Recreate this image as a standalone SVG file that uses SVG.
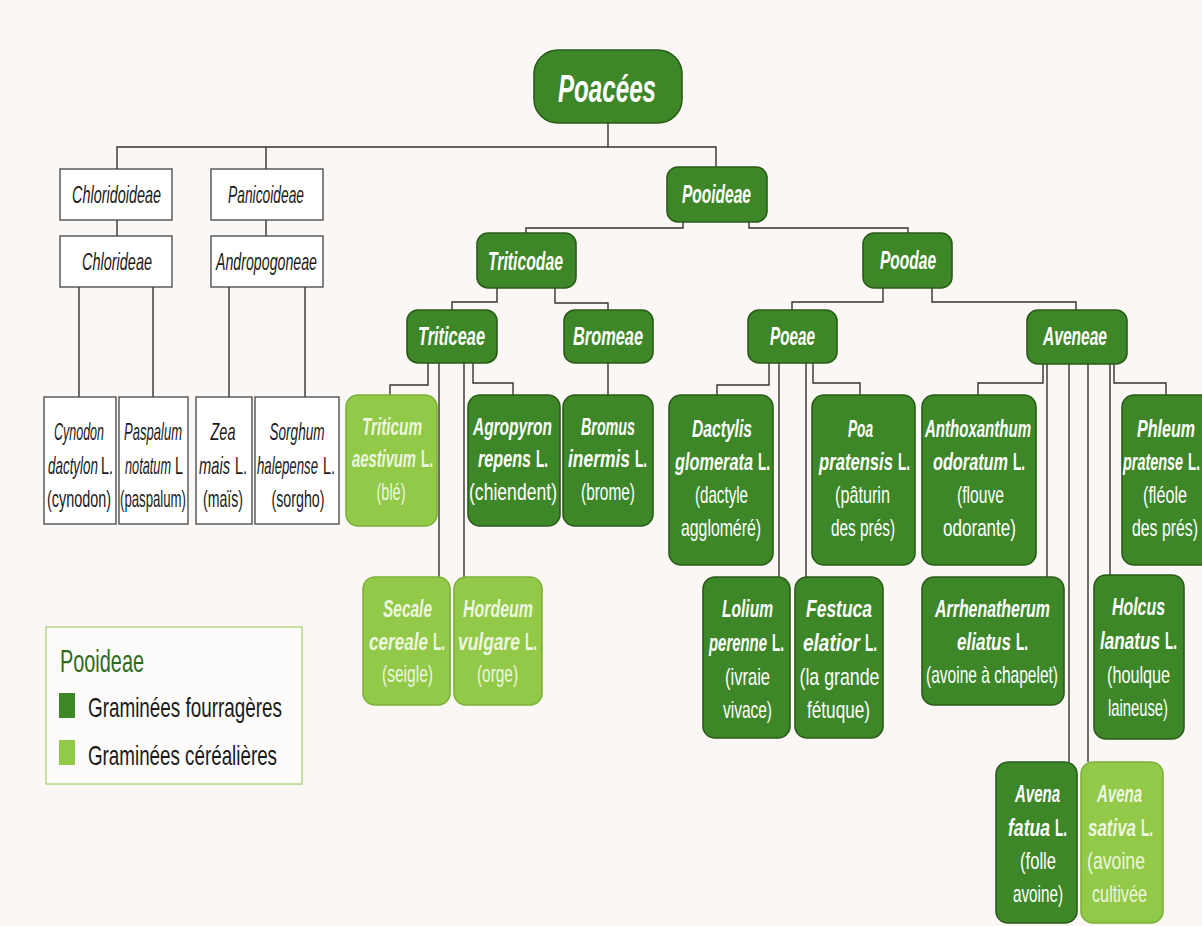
<svg xmlns="http://www.w3.org/2000/svg" width="1202" height="926" viewBox="0 0 1202 926">
<style>
.conn{stroke:#333;stroke-width:1.4;fill:none}
.wbox{fill:#fff;stroke:#444;stroke-width:1.3}
.dk{fill:#3d8729;stroke:#2a5c18;stroke-width:1.6}
.lt{fill:#92c948;stroke:#7cb138;stroke-width:1.6}
text{font-family:"Liberation Sans",Arial,sans-serif;text-anchor:middle}
.s{text-anchor:start}
.w{fill:#1a1a1a;font-size:24px}
.g{fill:#ffffff;font-size:24px}
.p{fill:#eef7df;font-size:24px}
.h{fill:#ffffff;font-size:25px;font-weight:bold;font-style:italic}
.i{font-style:italic}
.b{font-weight:bold}
.leg{fill:#1a1a1a;font-size:28px;text-anchor:start}
</style>
<rect x="0" y="0" width="1202" height="926" fill="#faf7f5"/>

<g id="connectors">
<path class="conn" d="M608,123 V147"/>
<path class="conn" d="M117,169 V147 H716 V167"/>
<path class="conn" d="M266,147 V169"/>
<path class="conn" d="M117,220 V236"/>
<path class="conn" d="M266,220 V236"/>
<path class="conn" d="M79,287 V397"/>
<path class="conn" d="M153,287 V397"/>
<path class="conn" d="M229,287 V397"/>
<path class="conn" d="M305,287 V397"/>
<path class="conn" d="M683,222 V228 H526 V233"/>
<path class="conn" d="M749,222 V228 H908 V233"/>
<path class="conn" d="M497,288 V302 H452 V310"/>
<path class="conn" d="M555,288 V303 H608 V310"/>
<path class="conn" d="M883,288 V302 H792 V310"/>
<path class="conn" d="M932,288 V302 H1076 V310"/>
<path class="conn" d="M428,363 V385 H390 V395"/>
<path class="conn" d="M439,363 V577"/>
<path class="conn" d="M464,363 V577"/>
<path class="conn" d="M473,363 V383 H513 V395"/>
<path class="conn" d="M608,363 V395"/>
<path class="conn" d="M769,363 V385 H717 V395"/>
<path class="conn" d="M779,363 V577"/>
<path class="conn" d="M806,363 V577"/>
<path class="conn" d="M813,363 V383 H860 V395"/>
<path class="conn" d="M1043,364 V383 H978 V395"/>
<path class="conn" d="M1047,364 V577"/>
<path class="conn" d="M1069,364 V762"/>
<path class="conn" d="M1088,364 V762"/>
<path class="conn" d="M1110,364 V575"/>
<path class="conn" d="M1114,364 V383 H1166 V395"/>
</g>

<g id="poacees">
<rect class="dk" x="534" y="50" width="148" height="73" rx="24"/>
<text class="h" x="607" y="102" style="font-size:39px" textLength="98" lengthAdjust="spacingAndGlyphs">Poacées</text>
</g>

<g id="chloridoideae">
<rect class="wbox" x="60" y="169" width="112" height="51"/>
<text class="w i" x="116.5" y="203" textLength="89" lengthAdjust="spacingAndGlyphs">Chloridoideae</text>
</g>
<g id="panicoideae">
<rect class="wbox" x="211" y="169" width="112" height="51"/>
<text class="w i" x="266" y="203" textLength="76" lengthAdjust="spacingAndGlyphs">Panicoideae</text>
</g>
<g id="chlorideae">
<rect class="wbox" x="60" y="236" width="112" height="51"/>
<text class="w i" x="117" y="270" textLength="70" lengthAdjust="spacingAndGlyphs">Chlorideae</text>
</g>
<g id="andropogoneae">
<rect class="wbox" x="211" y="236" width="112" height="51"/>
<text class="w i" x="266.5" y="270" textLength="101" lengthAdjust="spacingAndGlyphs">Andropogoneae</text>
</g>

<g id="cynodon">
<rect class="wbox" x="44" y="397" width="72" height="127"/>
<text class="w i" x="79" y="440" textLength="50" lengthAdjust="spacingAndGlyphs">Cynodon</text>
<text class="w i s" x="48" y="474" textLength="50" lengthAdjust="spacingAndGlyphs">dactylon</text>
<text class="w s" x="101" y="474" textLength="12" lengthAdjust="spacingAndGlyphs">L.</text>
<text class="w" x="79" y="507" textLength="64" lengthAdjust="spacingAndGlyphs">(cynodon)</text>
</g>
<g id="paspalum">
<rect class="wbox" x="119" y="397" width="69" height="127"/>
<text class="w i" x="153" y="440" textLength="58" lengthAdjust="spacingAndGlyphs">Paspalum</text>
<text class="w i s" x="125" y="474" textLength="46" lengthAdjust="spacingAndGlyphs">notatum</text>
<text class="w s" x="175" y="474" textLength="8" lengthAdjust="spacingAndGlyphs">L</text>
<text class="w" x="153" y="507" textLength="66" lengthAdjust="spacingAndGlyphs">(paspalum)</text>
</g>
<g id="zea">
<rect class="wbox" x="196" y="397" width="56" height="127"/>
<text class="w i" x="223" y="440" textLength="25" lengthAdjust="spacingAndGlyphs">Zea</text>
<text class="w i s" x="199" y="474" textLength="31" lengthAdjust="spacingAndGlyphs">mais</text>
<text class="w s" x="235" y="474" textLength="12" lengthAdjust="spacingAndGlyphs">L.</text>
<text class="w" x="223" y="507" textLength="40" lengthAdjust="spacingAndGlyphs">(maïs)</text>
</g>
<g id="sorghum">
<rect class="wbox" x="255" y="397" width="84" height="127"/>
<text class="w i" x="297" y="440" textLength="55" lengthAdjust="spacingAndGlyphs">Sorghum</text>
<text class="w i s" x="257" y="474" textLength="61" lengthAdjust="spacingAndGlyphs">halepense</text>
<text class="w s" x="323" y="474" textLength="12" lengthAdjust="spacingAndGlyphs">L.</text>
<text class="w" x="298" y="507" textLength="53" lengthAdjust="spacingAndGlyphs">(sorgho)</text>
</g>

<g id="pooideae">
<rect class="dk" x="667" y="167" width="100" height="55" rx="11"/>
<text class="h" x="716.5" y="203" textLength="69" lengthAdjust="spacingAndGlyphs">Pooideae</text>
</g>
<g id="triticodae">
<rect class="dk" x="477" y="233" width="99" height="55" rx="11"/>
<text class="h" x="525.5" y="270" textLength="75" lengthAdjust="spacingAndGlyphs">Triticodae</text>
</g>
<g id="poodae">
<rect class="dk" x="863" y="233" width="89" height="55" rx="11"/>
<text class="h" x="908" y="269" textLength="56" lengthAdjust="spacingAndGlyphs">Poodae</text>
</g>
<g id="triticeae">
<rect class="dk" x="407" y="310" width="90" height="53" rx="11"/>
<text class="h" x="451.5" y="345" textLength="67" lengthAdjust="spacingAndGlyphs">Triticeae</text>
</g>
<g id="bromeae">
<rect class="dk" x="564" y="310" width="89" height="53" rx="11"/>
<text class="h" x="608" y="345" textLength="70" lengthAdjust="spacingAndGlyphs">Bromeae</text>
</g>
<g id="poeae">
<rect class="dk" x="748" y="310" width="89" height="53" rx="11"/>
<text class="h" x="792.5" y="345" textLength="45" lengthAdjust="spacingAndGlyphs">Poeae</text>
</g>
<g id="aveneae">
<rect class="dk" x="1027" y="310" width="100" height="54" rx="11"/>
<text class="h" x="1075" y="345" textLength="64" lengthAdjust="spacingAndGlyphs">Aveneae</text>
</g>

<g id="triticum">
<rect class="lt" x="346" y="395" width="91" height="131" rx="12"/>
<text class="p b i" x="392" y="435" textLength="60" lengthAdjust="spacingAndGlyphs">Triticum</text>
<text class="p b i s" x="352" y="467" textLength="64" lengthAdjust="spacingAndGlyphs">aestivum</text>
<text class="p b s" x="421" y="467" textLength="12" lengthAdjust="spacingAndGlyphs">L.</text>
<text class="p" x="391" y="500" textLength="29" lengthAdjust="spacingAndGlyphs">(blé)</text>
</g>
<g id="agropyron">
<rect class="dk" x="468" y="395" width="92" height="131" rx="12"/>
<text class="g b i" x="512.5" y="435" textLength="79" lengthAdjust="spacingAndGlyphs">Agropyron</text>
<text class="g b i s" x="478" y="467" textLength="53" lengthAdjust="spacingAndGlyphs">repens</text>
<text class="g b s" x="536" y="467" textLength="12" lengthAdjust="spacingAndGlyphs">L.</text>
<text class="g" x="513" y="500" textLength="88" lengthAdjust="spacingAndGlyphs">(chiendent)</text>
</g>
<g id="bromus">
<rect class="dk" x="563" y="395" width="90" height="131" rx="12"/>
<text class="g b i" x="608" y="435" textLength="54" lengthAdjust="spacingAndGlyphs">Bromus</text>
<text class="g b i s" x="568" y="467" textLength="62" lengthAdjust="spacingAndGlyphs">inermis</text>
<text class="g b s" x="635" y="467" textLength="12" lengthAdjust="spacingAndGlyphs">L.</text>
<text class="g" x="608" y="500" textLength="54" lengthAdjust="spacingAndGlyphs">(brome)</text>
</g>
<g id="secale">
<rect class="lt" x="363" y="577" width="87" height="128" rx="12"/>
<text class="p b i" x="407.5" y="617" textLength="49" lengthAdjust="spacingAndGlyphs">Secale</text>
<text class="p b i s" x="369" y="650" textLength="59" lengthAdjust="spacingAndGlyphs">cereale</text>
<text class="p b s" x="433" y="650" textLength="12" lengthAdjust="spacingAndGlyphs">L.</text>
<text class="p" x="407.5" y="682" textLength="51" lengthAdjust="spacingAndGlyphs">(seigle)</text>
</g>
<g id="hordeum">
<rect class="lt" x="454" y="577" width="88" height="128" rx="12"/>
<text class="p b i" x="498" y="617" textLength="70" lengthAdjust="spacingAndGlyphs">Hordeum</text>
<text class="p b i s" x="458" y="650" textLength="62" lengthAdjust="spacingAndGlyphs">vulgare</text>
<text class="p b s" x="525" y="650" textLength="12" lengthAdjust="spacingAndGlyphs">L.</text>
<text class="p" x="497.5" y="682" textLength="41" lengthAdjust="spacingAndGlyphs">(orge)</text>
</g>

<g id="dactylis">
<rect class="dk" x="669" y="395" width="104" height="170" rx="12"/>
<text class="g b i" x="722" y="437" textLength="60" lengthAdjust="spacingAndGlyphs">Dactylis</text>
<text class="g b i s" x="675" y="470" textLength="78" lengthAdjust="spacingAndGlyphs">glomerata</text>
<text class="g b s" x="758" y="470" textLength="12" lengthAdjust="spacingAndGlyphs">L.</text>
<text class="g" x="721.5" y="503" textLength="53" lengthAdjust="spacingAndGlyphs">(dactyle</text>
<text class="g" x="721" y="536" textLength="80" lengthAdjust="spacingAndGlyphs">aggloméré)</text>
</g>
<g id="poa">
<rect class="dk" x="812" y="395" width="103" height="170" rx="12"/>
<text class="g b i" x="860.5" y="437" textLength="25" lengthAdjust="spacingAndGlyphs">Poa</text>
<text class="g b i s" x="819" y="470" textLength="74" lengthAdjust="spacingAndGlyphs">pratensis</text>
<text class="g b s" x="898" y="470" textLength="12" lengthAdjust="spacingAndGlyphs">L.</text>
<text class="g" x="862.5" y="503" textLength="55" lengthAdjust="spacingAndGlyphs">(pâturin</text>
<text class="g" x="863" y="536" textLength="64" lengthAdjust="spacingAndGlyphs">des prés)</text>
</g>
<g id="lolium">
<rect class="dk" x="703" y="577" width="87" height="161" rx="12"/>
<text class="g b i" x="747.5" y="617" textLength="51" lengthAdjust="spacingAndGlyphs">Lolium</text>
<text class="g b i s" x="709" y="651" textLength="58" lengthAdjust="spacingAndGlyphs">perenne</text>
<text class="g b s" x="772" y="651" textLength="12" lengthAdjust="spacingAndGlyphs">L.</text>
<text class="g" x="747.5" y="685" textLength="45" lengthAdjust="spacingAndGlyphs">(ivraie</text>
<text class="g" x="747.5" y="718" textLength="49" lengthAdjust="spacingAndGlyphs">vivace)</text>
</g>
<g id="festuca">
<rect class="dk" x="795" y="577" width="88" height="161" rx="12"/>
<text class="g b i" x="839" y="617" textLength="66" lengthAdjust="spacingAndGlyphs">Festuca</text>
<text class="g b i s" x="803" y="651" textLength="57" lengthAdjust="spacingAndGlyphs">elatior</text>
<text class="g b s" x="865" y="651" textLength="12" lengthAdjust="spacingAndGlyphs">L.</text>
<text class="g" x="839.5" y="685" textLength="80" lengthAdjust="spacingAndGlyphs">(la grande</text>
<text class="g" x="838.5" y="718" textLength="63" lengthAdjust="spacingAndGlyphs">fétuque)</text>
</g>

<g id="anthoxanthum">
<rect class="dk" x="922" y="395" width="114" height="170" rx="12"/>
<text class="g b i" x="978" y="437" textLength="106" lengthAdjust="spacingAndGlyphs">Anthoxanthum</text>
<text class="g b i s" x="933" y="470" textLength="75" lengthAdjust="spacingAndGlyphs">odoratum</text>
<text class="g b s" x="1013" y="470" textLength="12" lengthAdjust="spacingAndGlyphs">L.</text>
<text class="g" x="980.5" y="503" textLength="47" lengthAdjust="spacingAndGlyphs">(flouve</text>
<text class="g" x="979.5" y="536" textLength="73" lengthAdjust="spacingAndGlyphs">odorante)</text>
</g>
<g id="phleum">
<rect class="dk" x="1122" y="395" width="92" height="170" rx="12"/>
<text class="g b i" x="1166" y="437" textLength="58" lengthAdjust="spacingAndGlyphs">Phleum</text>
<text class="g b i s" x="1123" y="470" textLength="60" lengthAdjust="spacingAndGlyphs">pratense</text>
<text class="g b s" x="1188" y="470" textLength="12" lengthAdjust="spacingAndGlyphs">L.</text>
<text class="g" x="1165" y="503" textLength="44" lengthAdjust="spacingAndGlyphs">(fléole</text>
<text class="g" x="1165" y="536" textLength="66" lengthAdjust="spacingAndGlyphs">des prés)</text>
</g>
<g id="arrhenatherum">
<rect class="dk" x="922" y="577" width="142" height="128" rx="12"/>
<text class="g b i" x="992.5" y="617" textLength="115" lengthAdjust="spacingAndGlyphs">Arrhenatherum</text>
<text class="g b i s" x="957" y="650" textLength="54" lengthAdjust="spacingAndGlyphs">eliatus</text>
<text class="g b s" x="1016" y="650" textLength="12" lengthAdjust="spacingAndGlyphs">L.</text>
<text class="g" x="992" y="683" textLength="132" lengthAdjust="spacingAndGlyphs">(avoine à chapelet)</text>
</g>
<g id="holcus">
<rect class="dk" x="1094" y="575" width="90" height="164" rx="12"/>
<text class="g b i" x="1138.5" y="615" textLength="53" lengthAdjust="spacingAndGlyphs">Holcus</text>
<text class="g b i s" x="1100" y="649" textLength="60" lengthAdjust="spacingAndGlyphs">lanatus</text>
<text class="g b s" x="1165" y="649" textLength="12" lengthAdjust="spacingAndGlyphs">L.</text>
<text class="g" x="1138.5" y="683" textLength="63" lengthAdjust="spacingAndGlyphs">(houlque</text>
<text class="g" x="1138" y="716" textLength="60" lengthAdjust="spacingAndGlyphs">laineuse)</text>
</g>
<g id="avena-fatua">
<rect class="dk" x="996" y="762" width="81" height="161" rx="12"/>
<text class="g b i" x="1037.5" y="802" textLength="45" lengthAdjust="spacingAndGlyphs">Avena</text>
<text class="g b i s" x="1008" y="836" textLength="42" lengthAdjust="spacingAndGlyphs">fatua</text>
<text class="g b s" x="1055" y="836" textLength="12" lengthAdjust="spacingAndGlyphs">L.</text>
<text class="g" x="1038" y="869" textLength="36" lengthAdjust="spacingAndGlyphs">(folle</text>
<text class="g" x="1038" y="902" textLength="50" lengthAdjust="spacingAndGlyphs">avoine)</text>
</g>
<g id="avena-sativa">
<rect class="lt" x="1081" y="762" width="82" height="161" rx="12"/>
<text class="p b i" x="1119.5" y="802" textLength="45" lengthAdjust="spacingAndGlyphs">Avena</text>
<text class="p b i s" x="1088" y="836" textLength="48" lengthAdjust="spacingAndGlyphs">sativa</text>
<text class="p b s" x="1141" y="836" textLength="12" lengthAdjust="spacingAndGlyphs">L.</text>
<text class="p" x="1116" y="869" textLength="58" lengthAdjust="spacingAndGlyphs">(avoine</text>
<text class="p" x="1119.5" y="902" textLength="55" lengthAdjust="spacingAndGlyphs">cultivée</text>
</g>

<g id="legend">
<rect x="46" y="627" width="256" height="157" fill="#fdfcfa" stroke="#b3d685" stroke-width="1.5"/>
<text class="leg" x="60" y="672" style="fill:#2f6b1e;font-size:32px" textLength="84" lengthAdjust="spacingAndGlyphs">Pooideae</text>
<rect x="59" y="693" width="16" height="25" fill="#3d8729"/>
<text class="leg" x="88" y="717" textLength="194" lengthAdjust="spacingAndGlyphs">Graminées fourragères</text>
<rect x="59" y="740" width="16" height="25" fill="#92c948"/>
<text class="leg" x="88" y="765" textLength="189" lengthAdjust="spacingAndGlyphs">Graminées céréalières</text>
</g>
</svg>
